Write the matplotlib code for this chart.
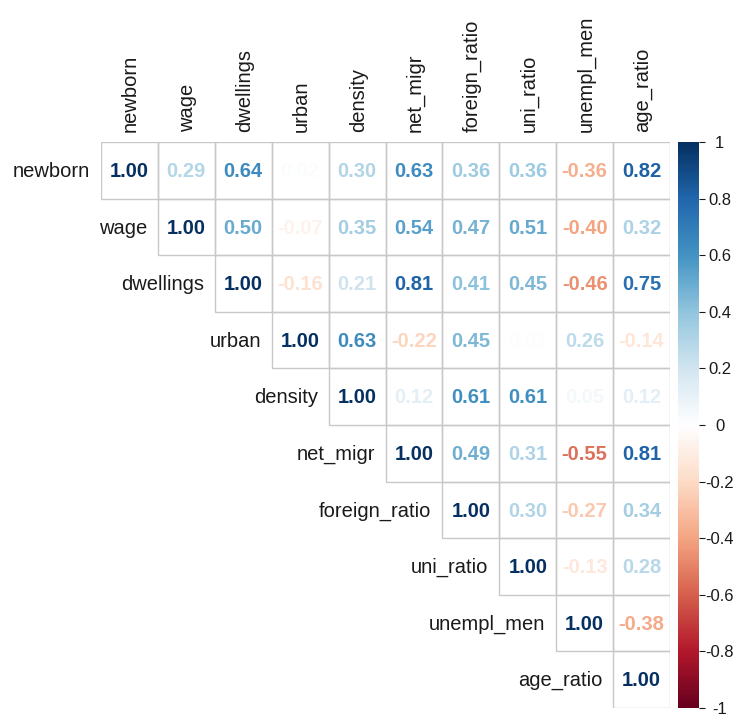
import numpy as np
import matplotlib; matplotlib.use("Agg")
import matplotlib.pyplot as plt
from matplotlib.colors import LinearSegmentedColormap, Normalize
from matplotlib.patches import Rectangle
from matplotlib.colorbar import ColorbarBase

plt.rcParams["font.family"] = ["Liberation Sans", "DejaVu Sans"]

labels = ["newborn", "wage", "dwellings", "urban", "density", "net_migr",
          "foreign_ratio", "uni_ratio", "unempl_men", "age_ratio"]
# upper-triangle rows (diagonal first)
r_newborn = [1.00, 0.29, 0.64, 0.02, 0.30, 0.63, 0.36, 0.36, -0.36, 0.82]
r_wage = [1.00, 0.50, -0.07, 0.35, 0.54, 0.47, 0.51, -0.40, 0.32]
r_dwellings = [1.00, -0.16, 0.21, 0.81, 0.41, 0.45, -0.46, 0.75]
r_urban = [1.00, 0.63, -0.22, 0.45, 0.01, 0.26, -0.14]
r_density = [1.00, 0.12, 0.61, 0.61, 0.05, 0.12]
r_net_migr = [1.00, 0.49, 0.31, -0.55, 0.81]
r_foreign = [1.00, 0.30, -0.27, 0.34]
r_uni = [1.00, -0.13, 0.28]
r_unempl = [1.00, -0.38]
r_age = [1.00]
rows = [r_newborn, r_wage, r_dwellings, r_urban, r_density, r_net_migr,
        r_foreign, r_uni, r_unempl, r_age]
cbar_ticks = [-1, -0.8, -0.6, -0.4, -0.2, 0, 0.2, 0.4, 0.6, 0.8, 1]

# corrplot COL2("RdBu")
cmap = LinearSegmentedColormap.from_list("rdbu", [
    "#67001F", "#B2182B", "#D6604D", "#F4A582", "#FDDBC7", "#FFFFFF",
    "#D1E5F0", "#92C5DE", "#4393C3", "#2166AC", "#053061"])
norm = Normalize(-1, 1)

W, H = 740, 718
fig = plt.figure(figsize=(W / 100, H / 100), dpi=100)
ax = fig.add_axes([101 / W, 1 - 708 / H, 569 / W, 566 / H])
ax.set_xlim(-0.5, 9.5); ax.set_ylim(9.5, -0.5); ax.axis("off")

for i, row in enumerate(rows):
    for k, v in enumerate(row):
        j = i + k
        ax.add_patch(Rectangle((j - 0.5, i - 0.5), 1, 1, fc="none", ec="#c8c8c8", lw=1.0))
        ax.text(j, i + 0.02, f"{v:.2f}", ha="center", va="center", fontsize=14.5,
                fontweight="bold", color=cmap(norm(v)))
    ax.text(i - 0.69, i + 0.02, labels[i], ha="right", va="center", fontsize=14.5, color="#1a1a1a")
for j, lab in enumerate(labels):
    ax.text(j + 0.02, -0.67, lab, rotation=90, ha="center", va="bottom", fontsize=14.5, color="#1a1a1a")

cax = fig.add_axes([678 / W, 1 - 708 / H, 21 / W, 566 / H])
cb = ColorbarBase(cax, cmap=cmap, norm=norm, ticks=cbar_ticks)
cb.outline.set_visible(False)
cb.ax.set_yticklabels([f"{t:g}" for t in cbar_ticks])
cb.ax.tick_params(labelsize=12, length=4, width=0.8, pad=11, colors="#1a1a1a")
for t in cb.ax.get_yticklabels():
    t.set_horizontalalignment("center")

fig.savefig("out.png", dpi=100)
